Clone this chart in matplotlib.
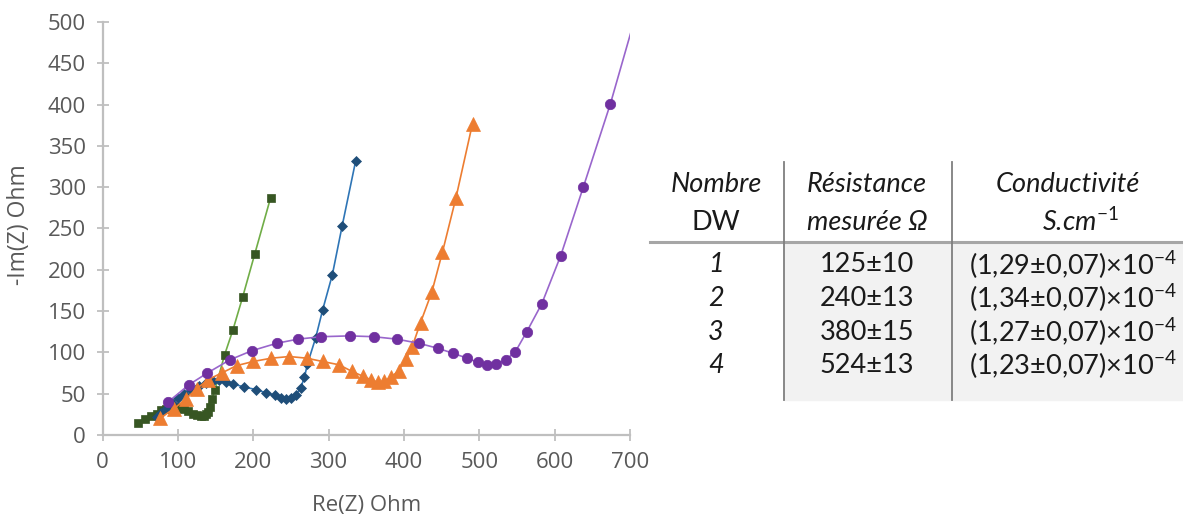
import matplotlib

matplotlib.use("Agg")
import matplotlib.pyplot as plt
from matplotlib.lines import Line2D
from matplotlib.patches import Rectangle

# Nyquist data (Re(Z), -Im(Z)) in Ohm
re_dw1 = [47, 56, 65, 72, 78, 84, 90, 96, 102, 108, 114, 120, 126, 131, 135, 138, 140,
          142, 145, 149, 162, 173, 186, 202, 223]
im_dw1 = [15, 19, 23, 26, 30, 32, 33, 34, 33, 31, 29, 26, 24, 23, 23, 25, 28,
          34, 43, 54, 97, 127, 167, 219, 287]

re_dw2 = [72, 78, 85, 92, 100, 108, 118, 128, 138, 147, 155, 164, 173, 188, 204, 217,
          229, 237, 244, 250, 257, 263, 268, 272, 283, 292, 305, 318, 336]
im_dw2 = [22, 27, 33, 39, 45, 50, 55, 59, 63, 65, 66, 64, 62, 58, 55, 51,
          48, 45, 44, 45, 49, 57, 70, 86, 118, 151, 194, 253, 332]

re_dw3 = [76, 95, 111, 125, 140, 158, 178, 200, 224, 248, 271, 292, 314, 331, 346, 356,
          365, 374, 383, 393, 403, 411, 422, 437, 451, 469, 491]
im_dw3 = [20, 32, 44, 56, 67, 75, 84, 89, 93, 95, 93, 89, 85, 77, 71, 67,
          64, 65, 70, 78, 92, 107, 136, 173, 221, 287, 377]

re_dw4 = [87, 115, 139, 169, 198, 231, 259, 290, 328, 360, 391, 420, 445, 465, 484, 498,
          510, 522, 535, 548, 563, 583, 608, 638, 674, 712]
im_dw4 = [40, 61, 75, 91, 102, 111, 116, 119, 120, 119, 116, 111, 105, 99, 93, 88,
          85, 86, 91, 101, 125, 159, 217, 300, 401, 522]

# table beside the chart
col_head_1 = ["Nombre", "DW"]
col_head_2 = ["Résistance", "mesurée Ω"]
col_head_3 = ["Conductivité", r"S.cm$^{-1}$"]
dw_labels = ["1", "2", "3", "4"]
resistance = ["125±10", "240±13", "380±15", "524±13"]
conductivity = ["(1,29±0,07)", "(1,34±0,07)", "(1,27±0,07)", "(1,23±0,07)"]

W, H = 1183, 518
AX_FONT = ["Open Sans", "DejaVu Sans"]
TB_FONT = ["Lato", "DejaVu Sans"]
GREY = "#595959"
SPINE = "#BFBFBF"

plt.rcParams["mathtext.fontset"] = "custom"
plt.rcParams["mathtext.rm"] = "Lato"
plt.rcParams["mathtext.it"] = "Lato:italic"

fig = plt.figure(figsize=(W / 100, H / 100), dpi=100)
ax = fig.add_axes([102.5 / W, 1 - 435 / H, (630 - 102.5) / W, (435 - 22) / H])

series = [
    (re_dw1, im_dw1, "#70AD47", "#375623", "s", 5.5),
    (re_dw2, im_dw2, "#2E75B6", "#1F4E79", "D", 5.5),
    (re_dw3, im_dw3, "#ED7D31", "#ED7D31", "^", 10),
    (re_dw4, im_dw4, "#9966CC", "#7030A0", "o", 7.5),
]
for xs, ys, lc, mc, mk, ms in series:
    ax.plot(xs, ys, color=lc, lw=1.2, marker=mk, ms=ms, mfc=mc, mec=mc, mew=0.5)

ax.set_xlim(0, 700)
ax.set_ylim(0, 500)
ax.set_xticks(range(0, 701, 100))
ax.set_yticks(range(0, 501, 50))
for s in ("top", "right"):
    ax.spines[s].set_visible(False)
for s in ("left", "bottom"):
    ax.spines[s].set_color(SPINE)
    ax.spines[s].set_linewidth(1.6)
ax.tick_params(direction="inout", length=8, width=1.3, color=SPINE,
               labelcolor=GREY, labelsize=16, pad=8)
for lab in ax.get_xticklabels() + ax.get_yticklabels():
    lab.set_family(AX_FONT)
ax.set_xlabel("Re(Z) Ohm", color=GREY, fontsize=16, family=AX_FONT, va="center")
ax.set_ylabel("-Im(Z) Ohm", color=GREY, fontsize=16.5, family=AX_FONT, va="center")
ax.xaxis.set_label_coords(0.5, -0.17)
ax.yaxis.set_label_coords(-0.159, 0.51)


def fx(x):
    return x / W


def fy(y):
    return 1 - y / H


# table geometry (pixels)
v1, v2 = 784, 952
hline = 242
top, bottom = 162, 400
col_x = [716, 867, 1073]
head3_x = [1068, 1080]
head_y = [184, 222]
row_y = [265, 298.5, 332, 365.5]

fig.patches.append(Rectangle((fx(v1), fy(bottom)), fx(W - v1), fy(hline + 1) - fy(bottom),
                             transform=fig.transFigure, color="#F2F2F2", zorder=0))
fig.lines.append(Line2D([fx(650), fx(W)], [fy(hline), fy(hline)], transform=fig.transFigure,
                        color="#A6A6A6", lw=2.2))
for v in (v1, v2):
    fig.lines.append(Line2D([fx(v), fx(v)], [fy(top), fy(bottom)], transform=fig.transFigure,
                            color="#7F7F7F", lw=1.3))

tb = dict(family=TB_FONT, fontsize=19.5, ha="center", va="center", color="#1a1a1a")
fig.text(fx(col_x[0]), fy(head_y[0]), col_head_1[0], style="italic", **tb)
fig.text(fx(col_x[0]), fy(head_y[1]), col_head_1[1], **tb)
for i in range(2):
    fig.text(fx(col_x[1]), fy(head_y[i]), col_head_2[i], style="italic", **tb)
    fig.text(fx(head3_x[i]), fy(head_y[i]), col_head_3[i], style="italic", **tb)
for i in range(4):
    fig.text(fx(col_x[0]), fy(row_y[i]), dw_labels[i], style="italic", **tb)
    fig.text(fx(col_x[1]), fy(row_y[i]), resistance[i], **tb)
    fig.text(fx(col_x[2]), fy(row_y[i]), conductivity[i] + r"×10$^{-4}$", **tb)

fig.savefig("out.png", dpi=100)
